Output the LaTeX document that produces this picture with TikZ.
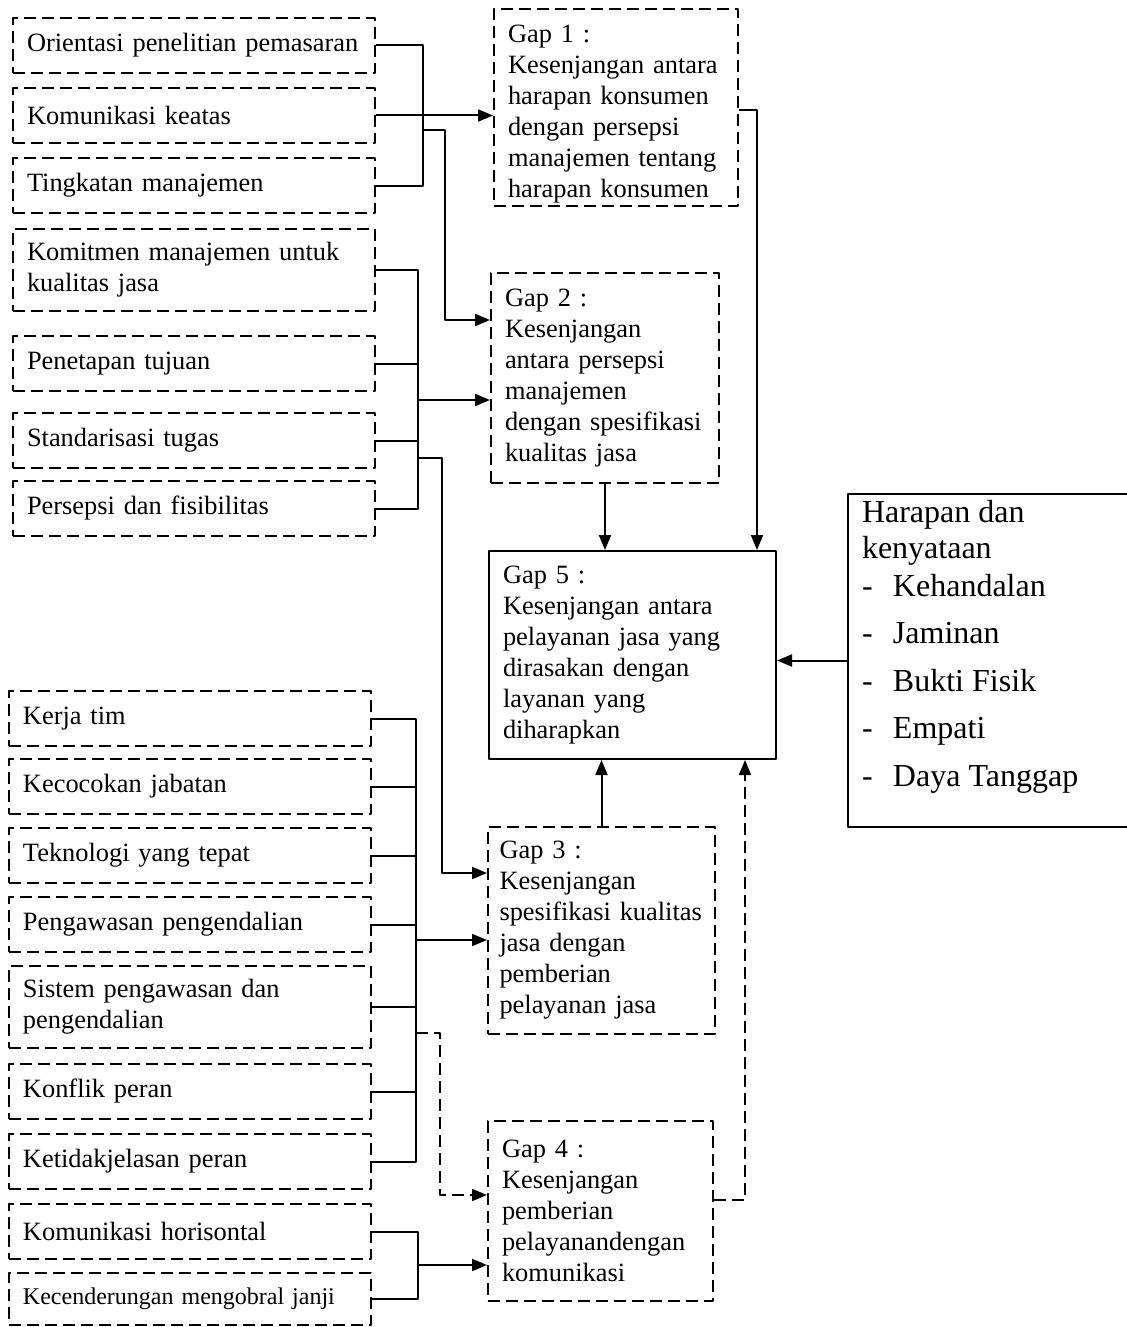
\documentclass[tikz,border=0pt]{standalone}
\usepackage{fontspec}
\setmainfont{Liberation Serif}
\usetikzlibrary{arrows.meta,positioning,calc}
\newcommand{\bxfont}{\fontsize{13.2}{15.5}\selectfont}

\begin{document}
\begin{tikzpicture}[x=0.5pt, y=-0.5pt, line join=round,
  faktor/.style={draw, dash pattern=on 6pt off 3pt, line width=1pt, anchor=north west,
    text width=167pt, inner xsep=7pt, inner ysep=0pt, minimum height=27.5pt, align=left, font=\bxfont},
  gapbox/.style={draw, dash pattern=on 6pt off 3pt, line width=1pt, anchor=north west,
    inner xsep=7pt, inner ysep=0pt, align=left, font=\bxfont},
  link/.style={line width=1pt},
  arr/.style={line width=1pt, -{Triangle[length=7.5pt,width=6pt]}},
  putus/.style={dash pattern=on 6pt off 3pt}]
\useasboundingbox (0,0) rectangle (1127,1327);
\clip (0,0) rectangle (1127,1327);
% faktor gap 1 dan gap 2
\node[faktor] (a1) at (12,17) {Orientasi penelitian pemasaran};
\node[faktor] (a2) at (12,87) {Komunikasi keatas};
\node[faktor] (a3) at (12,157) {Tingkatan manajemen};
\node[faktor, minimum height=41pt] (a4) at (12,228) {Komitmen manajemen untuk\\kualitas jasa};
\node[faktor] (a5) at (12,335) {Penetapan tujuan};
\node[faktor] (a6) at (12,412) {Standarisasi tugas};
\node[faktor] (a7) at (12,480) {Persepsi dan fisibilitas};
% faktor gap 3 dan gap 4
\foreach \n/\y/\t in {1/690/Kerja tim, 2/758/Kecocokan jabatan, 3/827/Teknologi yang tepat,
    4/896/Pengawasan pengendalian, 6/1063/Konflik peran, 7/1133/Ketidakjelasan peran,
    8/1203/Komunikasi horisontal}{
  \node[faktor] (c\n) at (8,\y) {\t};
}
\node[faktor, minimum height=41pt] (c5) at (8,965) {Sistem pengawasan dan\\pengendalian};
\node[faktor, minimum height=26pt, font=\fontsize{12}{14}\selectfont] (c9) at (8,1272) {Kecenderungan mengobral janji};
% kotak gap
\node[gapbox, text width=108pt, minimum height=98.5pt] (gap1) at (493,8)
  {\rule{0pt}{15.5pt}Gap 1 :\\Kesenjangan antara\\harapan konsumen\\dengan persepsi\\manajemen tentang\\harapan konsumen};
\node[gapbox, text width=100pt, minimum height=105pt] (gap2) at (490,272)
  {Gap 2 :\\Kesenjangan\\antara persepsi\\manajemen\\dengan spesifikasi\\kualitas jasa};
\node[gapbox, solid, text width=129.5pt, minimum height=104pt] (gap5) at (488,550)
  {Gap 5 :\\Kesenjangan antara\\pelayanan jasa yang\\dirasakan dengan\\layanan yang\\diharapkan};
\node[gapbox, text width=102pt, inner xsep=5.75pt, minimum height=103.5pt] (gap3) at (487,826)
  {Gap 3 :\\Kesenjangan\\spesifikasi kualitas\\jasa dengan\\pemberian\\pelayanan jasa};
\node[gapbox, text width=98.5pt, minimum height=90pt] (gap4) at (487,1120)
  {Gap 4 :\\Kesenjangan\\pemberian\\pelayanandengan\\komunikasi};
\node[draw, line width=1pt, anchor=north west, inner xsep=7pt, inner ysep=3pt] (harapan) at (847,493)
  {\parbox[t][160.5pt][t]{132.5pt}{\fontsize{16}{18}\selectfont
    Harapan dan\\
    kenyataan\\[1pt]
    \makebox[15.5pt][l]{-}Kehandalan\\[5.75pt]
    \makebox[15.5pt][l]{-}Jaminan\\[5.75pt]
    \makebox[15.5pt][l]{-}Bukti Fisik\\[5.75pt]
    \makebox[15.5pt][l]{-}Empati\\[5.75pt]
    \makebox[15.5pt][l]{-}Daya Tanggap}};
% penghubung ke gap 1 dan gap 2
\coordinate (busA) at (423,114.5);
\draw[link] (a1.east) -| (busA) |- (a3.east);
\draw[arr] (a2.east) -- (a2.east -| gap1.west);
\coordinate (kA) at (423,130);
\coordinate (kA2) at (445,320);
\draw[arr] (kA) -| (kA2) -- (kA2 -| gap2.west);
\coordinate (busB) at (418,400);
\draw[link] (a4.east) -| (busB) |- (a7.east);
\draw[link] (a5.east) -- (a5.east -| busB);
\draw[link] (a6.east) -- (a6.east -| busB);
\draw[arr] (busB) -- (busB -| gap2.west);
\coordinate (kB) at (418,458);
\coordinate (kB2) at (442,873);
\draw[arr] (kB) -| (kB2) -- (kB2 -| gap3.west);
% penghubung ke gap 3 dan gap 4
\coordinate (busC) at (416,940);
\draw[link] (c1.east) -| (busC) |- (c7.east);
\foreach \i in {2,...,6}{
  \draw[link] (c\i.east) -- (c\i.east -| busC);
}
\draw[arr] (busC) -- (busC -| gap3.west);
\coordinate (kE) at (416,1033);
\coordinate (kE2) at (440,1195);
\draw[arr, putus] (kE) -| (kE2) -- (kE2 -| gap4.west);
\coordinate (busD) at (418,1265);
\draw[link] (c8.east) -| (busD) |- (c9.east);
\draw[arr] (busD) -- (busD -| gap4.west);
% menuju gap 5
\coordinate (kC) at (757,110);
\draw[arr] (gap1.east |- kC) -| (kC |- gap5.north);
\draw[arr] (gap2.south) -- (gap2.south |- gap5.north);
\draw[arr] (gap3.north) -- (gap3.north |- gap5.south);
\draw[arr] (harapan.west) -- (harapan.west -| gap5.east);
\coordinate (kD) at (745,1200);
\draw[arr, putus] (gap4.east |- kD) -| (kD |- gap5.south);
\end{tikzpicture}
\end{document}
